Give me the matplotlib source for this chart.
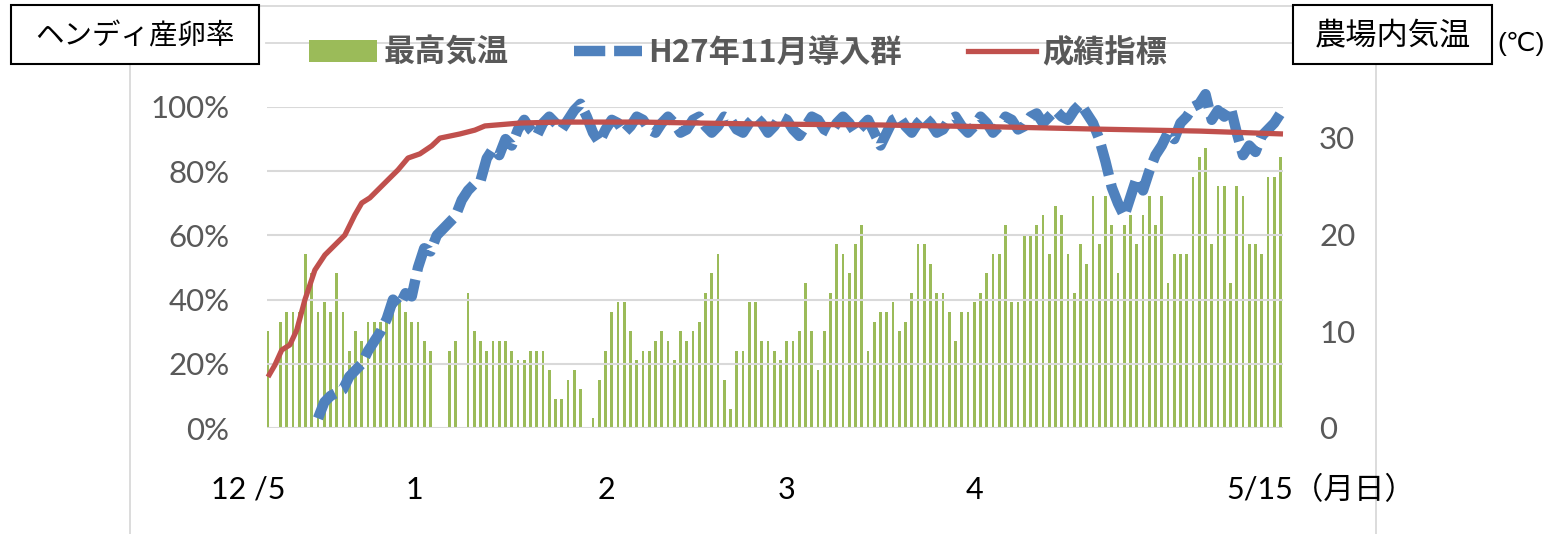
import numpy as np
import matplotlib.pyplot as plt
from matplotlib.lines import Line2D
from matplotlib.patches import Patch, Rectangle
from matplotlib.transforms import blended_transform_factory

# -- data (one bar per day, 12/5 .. 5/15)
temp_max = [10, None, 11, 12, 12, 12, 18, 16, 12, 13,
            12, 16, 12, 8, 10, 9, 11, 11, 11, 12,
            12, 13, 12, 11, 11, 9, 8, None, None, 8,
            9, None, 14, 10, 9, 8, 9, 9, 9, 8,
            7, 7, 8, 8, 8, 6, 3, 3, 5, 6,
            4, -0.3, 1, 5, 8, 12, 13, 13, 10, 7,
            8, 8, 9, 10, 9, 7, 10, 9, 10, 11,
            14, 16, 18, 5, 2, 8, 8, 13, 13, 9,
            9, 8, 7, 9, 9, 10, 15, 10, 6, 10,
            14, 19, 18, 16, 19, 21, 8, 11, 12, 12,
            13, 10, 11, 14, 19, 19, 17, 14, 14, 12,
            9, 12, 12, 13, 14, 16, 18, 18, 21, 13,
            13, 20, 20, 21, 22, 18, 23, 22, 18, 14,
            19, 17, 24, 19, 24, 21, 16, 21, 22, 19,
            22, 24, 21, 24, 15, 18, 18, 18, 26, 28,
            29, 19, 25, 25, 15, 25, 24, 19, 19, 18,
            26, 26, 28]

# H27年11月導入群: daily laying rate (%) from day 8 (12/13) to 5/15
flock_start = 8
flock_pct = [3, 8, 10, 11, 12, 16, 18, 20, 24, 27,
             30, 34, 40, 38, 42, 41, 50, 56, 55, 60,
             62, 64, 66, 71, 74, 76, 77, 84, 87, 85,
             90, 88, 93, 96, 93, 91, 95, 97, 95, 93,
             96, 99, 101, 97, 92, 89, 93, 96, 95, 92,
             94, 97, 96, 93, 92, 95, 97, 95, 92, 93,
             96, 97, 94, 92, 94, 97, 96, 93, 92, 95,
             97, 95, 92, 94, 97, 96, 93, 91, 94, 97,
             96, 93, 92, 95, 97, 95, 92, 94, 96, 92,
             88, 92, 96, 97, 94, 92, 95, 97, 95, 92,
             93, 96, 97, 94, 92, 94, 97, 95, 92, 94,
             97, 96, 93, 94, 97, 98, 95, 97, 99, 97,
             96, 99, 101, 98, 95, 90, 83, 75, 70, 66,
             72, 78, 74, 80, 85, 88, 92, 90, 95, 97,
             100, 101, 104, 96, 99, 97, 100, 92, 85, 88,
             86, 91, 93, 95, 98]

# 成績指標 (day index, %)
std_day = [0, 1.1, 2.2, 3.5, 4.6, 5.9, 7.5, 9.1, 10.7, 12.3,
           13.9, 15, 16.3, 17.9, 19.5, 20.8, 22.4, 24.3, 26.2, 27.5,
           30.7, 33.1, 34.7, 40.3, 46.7, 59.5, 78.7, 97.9, 117, 133,
           149, 162.4]
std_pct = [15.9, 19.6, 24.3, 25.9, 30.5, 39.9, 49.2, 53.9, 57, 60.1,
           66.4, 70.1, 71.7, 74.8, 77.9, 80.4, 84.1, 85.4, 87.9, 90.3,
           91.6, 92.8, 94.1, 95, 95.3, 95.3, 94.7, 94.4, 93.8, 93.1,
           92.5, 91.6]

pct_ticks = [0, 20, 40, 60, 80, 100]
temp_ticks = [0, 10, 20, 30]
date_labels = ['12 /5', '1', '2', '3', '4', '5/15（月日）']
date_label_pos = [-3.2, 23.5, 54.2, 83.0, 113.0, 153.4]

GREEN, BLUE, RED = '#9BBB59', '#4F81BD', '#C0504D'
GRAY, GRID = '#595959', '#D9D9D9'
JP = ['Noto Sans CJK JP', 'DejaVu Sans']
NUM = ['Lato', 'Noto Sans CJK JP', 'DejaVu Sans']

W, H = 1558, 534
fig = plt.figure(figsize=(W / 100, H / 100), dpi=100)

def fx(px):
    return px / W

def fy(py):
    return 1 - py / H

# outer decoration lines of the original sheet
for xs, ys in [((259, 1293), (6, 6)), ((266, 1293), (43, 43)),
               ((130, 130), (64, 534)), ((1376, 1376), (64, 534))]:
    fig.add_artist(Line2D([fx(x) for x in xs], [fy(y) for y in ys],
                          color=GRID, lw=1.3))

ax = fig.add_axes([fx(267), fy(428), fx(1283) - fx(267), fy(107) - fy(428)])
ax2 = ax.twinx()
ax.set_zorder(2)
ax2.set_zorder(1)
ax.patch.set_visible(False)

days = np.arange(len(temp_max))
temp = np.array([np.nan if v is None else v for v in temp_max], float)
ax2.bar(days, temp, width=0.45, color=GREEN, linewidth=0)

flock_day = np.arange(flock_start, flock_start + len(flock_pct))
ax.plot(flock_day, flock_pct, color=BLUE, lw=7.5, clip_on=False, zorder=2,
        linestyle=(0, (3.0, 0.85)), dash_capstyle='butt', dash_joinstyle='round')
ax.plot(std_day, std_pct, color=RED, lw=3.8, clip_on=False, zorder=3,
        solid_capstyle='butt')

ax.set_xlim(-0.16, 162.4)
ax.set_ylim(0, 100)
ax2.set_ylim(0, 33.2)

ax.set_yticks(pct_ticks)
ax.set_yticklabels([f'{v}%' for v in pct_ticks])
ax2.set_yticks(temp_ticks)
ax.set_xticks([])
ax.tick_params(axis='y', length=0, pad=27, labelsize=22.5, labelcolor=GRAY)
ax2.tick_params(axis='y', length=0, pad=26, labelsize=22.5, labelcolor=GRAY)
for lab in ax.get_yticklabels() + ax2.get_yticklabels():
    lab.set_family(NUM)
ax.yaxis.grid(True, color=GRID, lw=1.5)
for a in (ax, ax2):
    for s in a.spines.values():
        s.set_visible(False)

tr = blended_transform_factory(ax.transData, ax.transAxes)
for pos, lab in zip(date_label_pos, date_labels):
    ax.text(pos, -0.193, lab, transform=tr, ha='left' if '（' in lab else 'center',
            va='center', fontsize=22, family=NUM, color='black', clip_on=False)

# legend
handles = [Patch(facecolor=GREEN, edgecolor='none'),
           Line2D([], [], color=BLUE, lw=7.5, linestyle=(0, (3.0, 0.85)), dash_capstyle='butt'),
           Line2D([], [], color=RED, lw=3.8)]
leg = fig.legend(handles, ['最高気温', 'H27年11月導入群', '成績指標'], ncol=3,
                 loc='center left', bbox_to_anchor=(fx(309), fy(53)), frameon=False,
                 borderpad=0, borderaxespad=0, handlelength=2.18, handletextpad=0.2,
                 columnspacing=2.1,
                 prop={'family': JP, 'weight': 'bold', 'size': 22.5})
for t in leg.get_texts():
    t.set_color(GRAY)

# boxed axis titles
for (x0, y0, x1, y1), txt, size in [((11, 5, 259, 64), 'ヘンディ産卵率', 20.5),
                                      ((1293, 5, 1492, 64), '農場内気温', 22.5)]:
    fig.add_artist(Rectangle((fx(x0), fy(y1)), fx(x1) - fx(x0), fy(y0) - fy(y1),
                             transform=fig.transFigure, facecolor='white',
                             edgecolor='black', lw=1.5, zorder=5))
    fig.text(fx((x0 + x1) / 2), fy(36), txt, ha='center', va='center',
             fontsize=size, family=JP, color='black', zorder=6)
fig.text(fx(1497), fy(44), '(℃)', ha='left', va='center', fontsize=19,
         family=['Liberation Sans', 'DejaVu Sans'], color='black')

fig.savefig('out.png', dpi=100)
